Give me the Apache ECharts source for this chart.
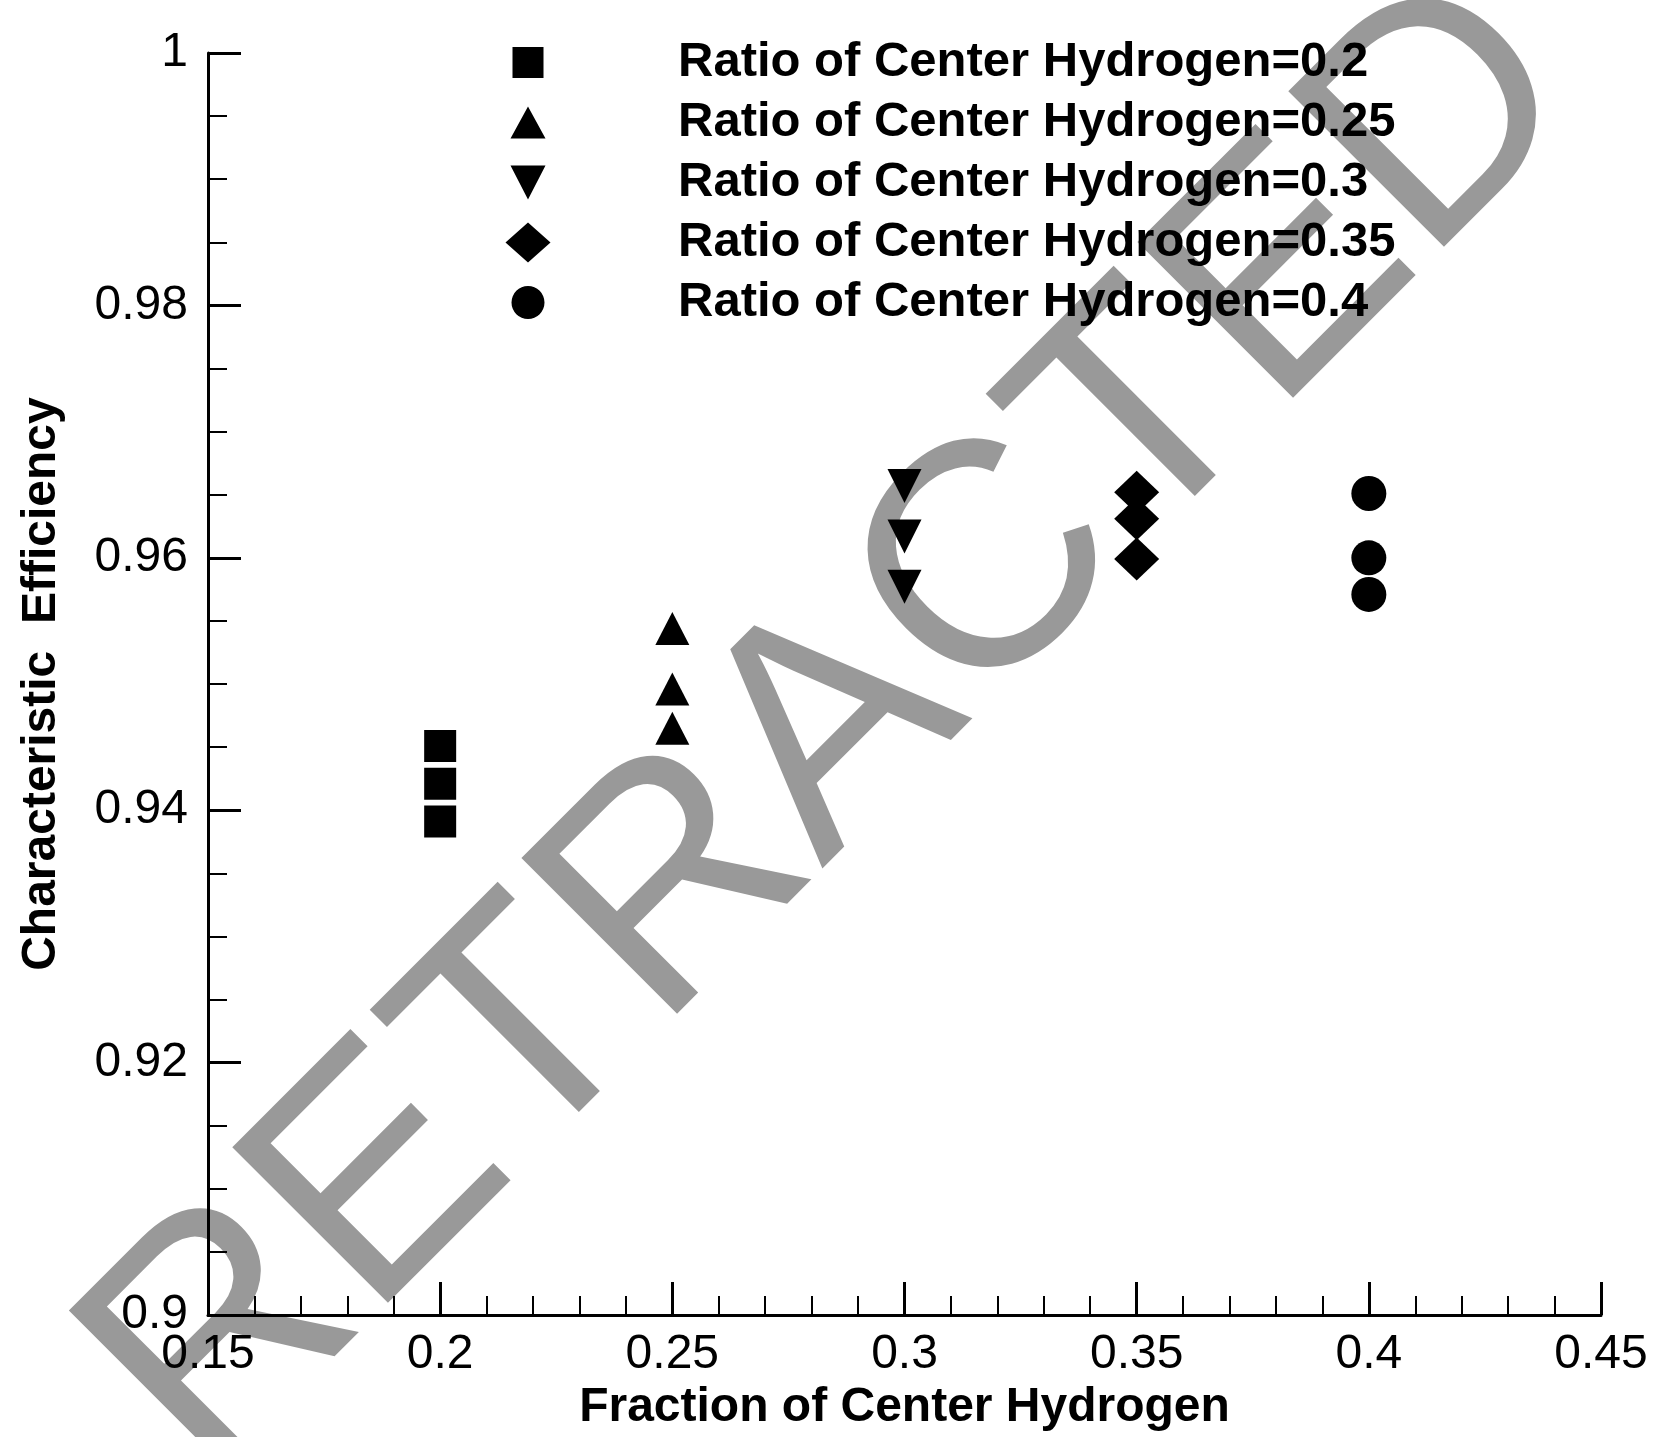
<!DOCTYPE html>
<html>
<head>
<meta charset="utf-8">
<script src="https://cdn.jsdelivr.net/npm/echarts@6/dist/echarts.min.js"></script>
<style>
  html, body { margin: 0; padding: 0; background: #fff; }
  #chart { width: 1659px; height: 1437px; }
</style>
</head>
<body>
<div id="chart"></div>
<script>
// Fraction of center hydrogen (x) for each ratio group
const fractions = [0.2, 0.25, 0.3, 0.35, 0.4];
const seriesNames = [
  'Ratio of Center Hydrogen=0.2',
  'Ratio of Center Hydrogen=0.25',
  'Ratio of Center Hydrogen=0.3',
  'Ratio of Center Hydrogen=0.35',
  'Ratio of Center Hydrogen=0.4'
];
// Characteristic efficiency values, three cases per group
const effRatio020 = [0.9451, 0.9421, 0.9391];
const effRatio025 = [0.9544, 0.9496, 0.9465];
const effRatio030 = [0.9657, 0.9617, 0.9577];
const effRatio035 = [0.9652, 0.9631, 0.9599];
const effRatio040 = [0.9651, 0.9600, 0.9571];
const efficiencies = [effRatio020, effRatio025, effRatio030, effRatio035, effRatio040];

const markerShapes = ['rect', 'triangle', 'path://M0,0 L10,0 L5,10 Z', 'diamond', 'circle'];
const markerSizes = [[32, 32], [34, 33], [34, 34], [45, 43], [35, 35]];

// Legend glyphs drawn in a shared 46x46 box; the two tiny corner
// anchors fix the box so each glyph keeps its own size inside it.
const BOX = 'M0,0 L0.01,0 L0,0.01 Z M46,46 L45.99,46 L46,45.99 Z ';
const legendIcons = [
  'path://' + BOX + 'M7.5,7.5 L38.5,7.5 L38.5,38.5 L7.5,38.5 Z',
  'path://' + BOX + 'M23,7 L40.5,39 L5.5,39 Z',
  'path://' + BOX + 'M5.5,6 L40.5,6 L23,40 Z',
  'path://' + BOX + 'M23,3 L45.5,23 L23,43 L0.5,23 Z',
  'path://' + BOX + 'M6.5,23 A16.5,16.5 0 1 1 39.5,23 A16.5,16.5 0 1 1 6.5,23 Z'
];

const FONT = '"Liberation Sans", Arial, sans-serif';

const chart = echarts.init(document.getElementById('chart'));

const series = seriesNames.map((name, i) => ({
  name: name,
  type: 'scatter',
  symbol: markerShapes[i],
  symbolSize: markerSizes[i],
  symbolKeepAspect: false,
  itemStyle: { color: '#000', opacity: 1 },
  emphasis: { disabled: true },
  data: efficiencies[i].map(v => [fractions[i], v]),
  z: 5
}));

const fmt = v => String(+v.toFixed(2));

chart.setOption({
  animation: false,
  backgroundColor: '#fff',
  grid: { left: 208, top: 53, right: 58, bottom: 114 },
  legend: {
    orient: 'vertical',
    left: 505,
    top: 38,
    padding: 0,
    itemGap: 11,
    itemWidth: 46,
    itemHeight: 46,
    selectedMode: false,
    textStyle: {
      fontFamily: FONT,
      fontSize: 49,
      fontWeight: 'bold',
      color: '#000',
      lineHeight: 48,
      padding: [0, 0, 0, 122]
    },
    data: seriesNames.map((name, i) => ({ name: name, icon: legendIcons[i] }))
  },
  xAxis: {
    type: 'value',
    min: 0.15,
    max: 0.45,
    interval: 0.05,
    name: 'Fraction of Center Hydrogen',
    nameLocation: 'middle',
    nameGap: 57,
    nameTextStyle: { fontFamily: FONT, fontSize: 48, fontWeight: 'bold', color: '#000' },
    axisLine: { show: true, onZero: false, lineStyle: { color: '#000', width: 3 } },
    axisTick: { show: true, inside: true, length: 33, lineStyle: { color: '#000', width: 3 } },
    minorTick: { show: true, splitNumber: 5, length: 19, lineStyle: { color: '#000', width: 2 } },
    splitLine: { show: false },
    axisLabel: { fontFamily: FONT, fontSize: 48, color: '#000', margin: 16, formatter: fmt, showMinLabel: true, showMaxLabel: true }
  },
  yAxis: {
    type: 'value',
    min: 0.9,
    max: 1,
    interval: 0.02,
    name: 'Characteristic  Efficiency',
    nameLocation: 'middle',
    nameGap: 142,
    nameTextStyle: { fontFamily: FONT, fontSize: 48, fontWeight: 'bold', color: '#000' },
    axisLine: { show: true, onZero: false, lineStyle: { color: '#000', width: 3 } },
    axisTick: { show: true, inside: true, length: 33, lineStyle: { color: '#000', width: 3 } },
    minorTick: { show: true, splitNumber: 4, length: 19, lineStyle: { color: '#000', width: 2 } },
    splitLine: { show: false },
    axisLabel: { fontFamily: FONT, fontSize: 48, color: '#000', margin: 20, formatter: fmt, showMinLabel: true, showMaxLabel: true }
  },
  graphic: [{
    type: 'text',
    z: -10,
    x: 835,
    y: 731,
    rotation: Math.PI / 4,
    silent: true,
    style: {
      text: 'RETRACTED',
      x: 0,
      y: 0,
      align: 'center',
      verticalAlign: 'middle',
      font: '320px ' + FONT,
      fill: '#999999'
    }
  }],
  series: series
});
</script>
</body>
</html>
